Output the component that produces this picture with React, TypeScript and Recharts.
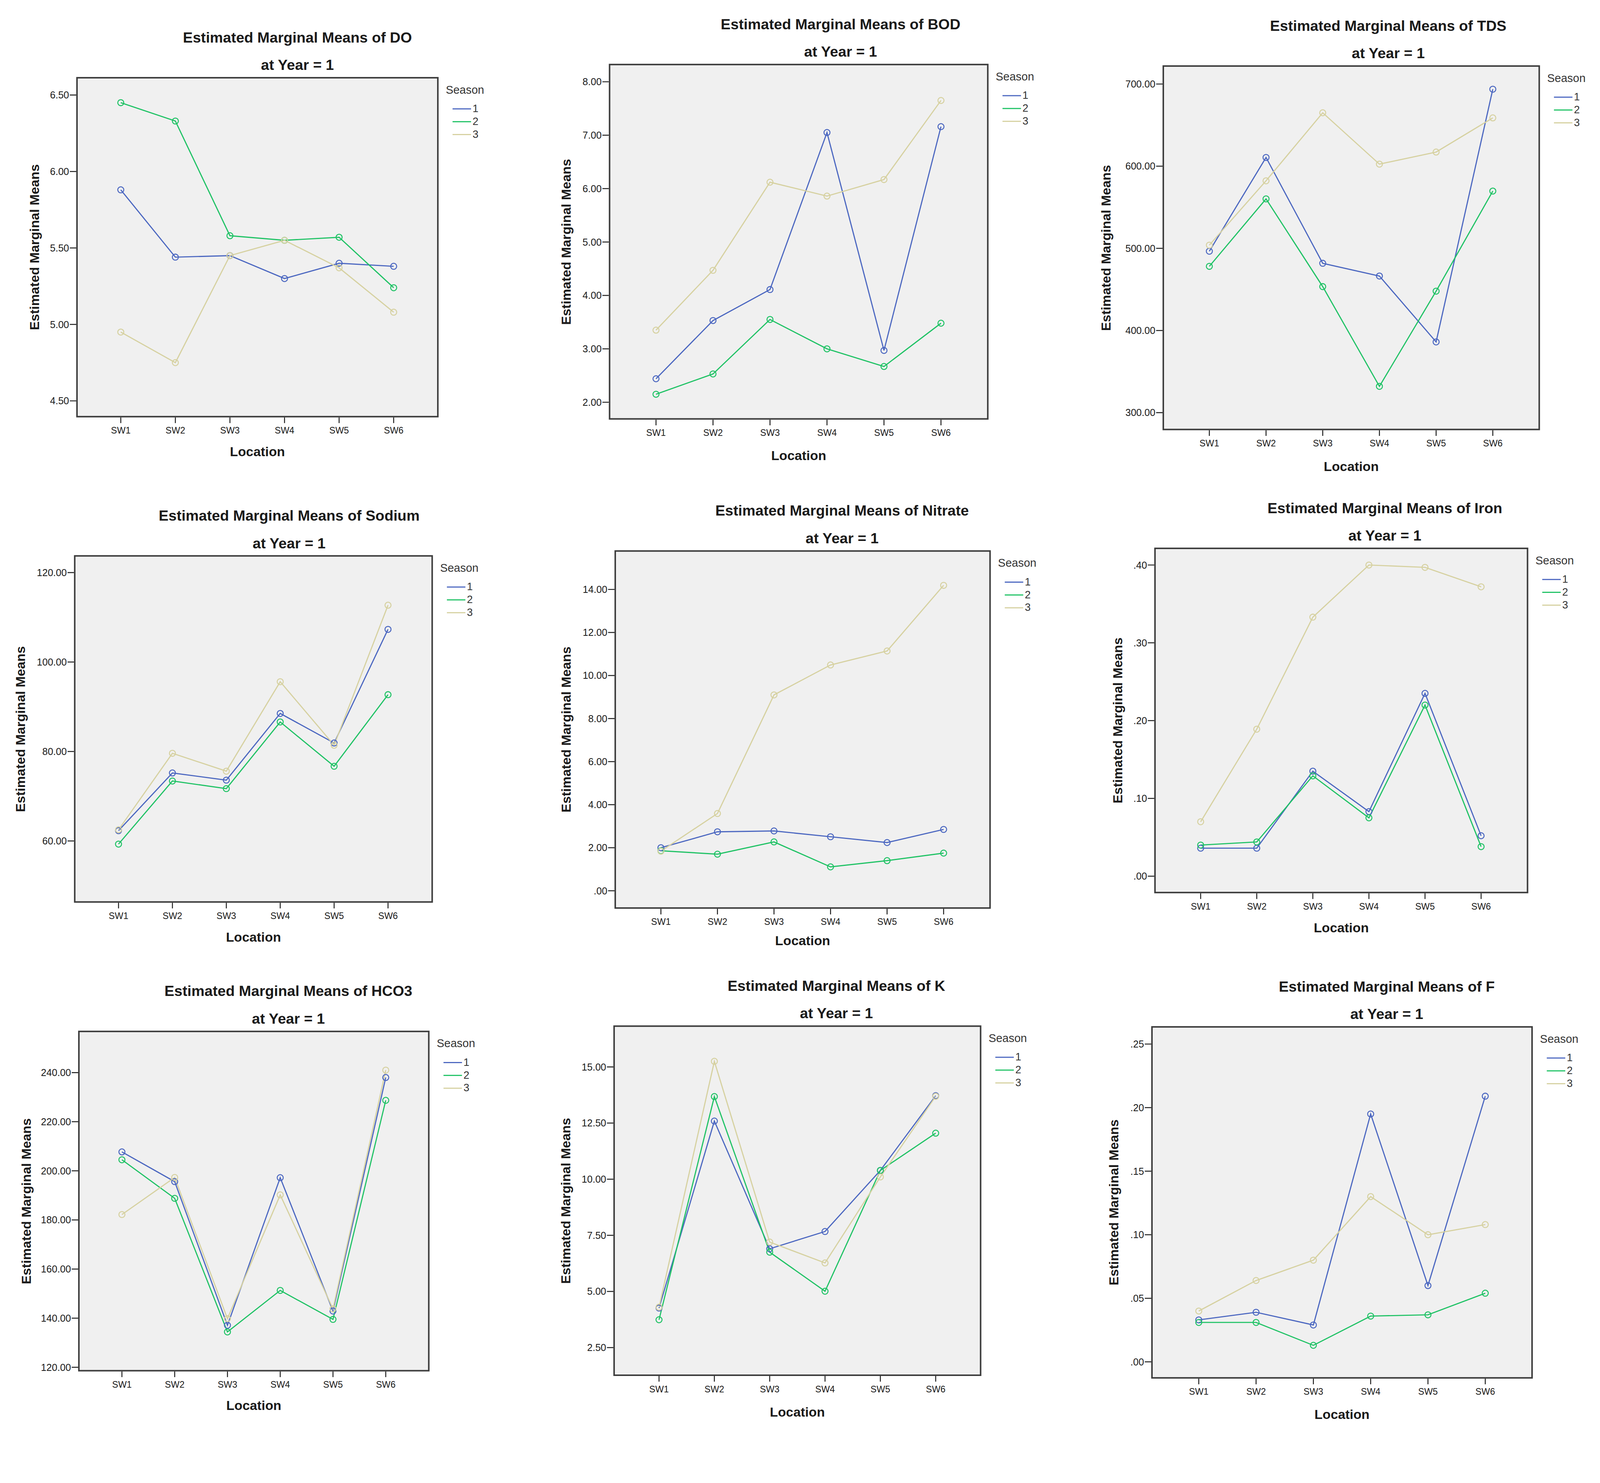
import React from "react";
import { LineChart, Line, XAxis, YAxis } from "recharts";

// categories and legend
const locations = ["SW1", "SW2", "SW3", "SW4", "SW5", "SW6"];
const seasons = ["1", "2", "3"];
const seasonColors = ["#4a66c0", "#1ec264", "#d6d1a0"];

// values, one array per season
const doS1 = [5.88, 5.44, 5.45, 5.3, 5.4, 5.38];
const doS2 = [6.45, 6.33, 5.58, 5.55, 5.57, 5.24];
const doS3 = [4.95, 4.75, 5.45, 5.55, 5.37, 5.08];
const doTicks = [4.5, 5, 5.5, 6, 6.5];

const bodS1 = [2.44, 3.53, 4.11, 7.05, 2.97, 7.16];
const bodS2 = [2.15, 2.53, 3.55, 3.0, 2.67, 3.48];
const bodS3 = [3.35, 4.47, 6.12, 5.86, 6.17, 7.65];
const bodTicks = [2, 3, 4, 5, 6, 7, 8];

const tdsS1 = [496.5, 610.6, 481.8, 466.3, 386.1, 693.7];
const tdsS2 = [478.1, 560.2, 453.4, 332.0, 447.9, 569.7];
const tdsS3 = [503.9, 582.2, 665.0, 602.5, 617.2, 658.8];
const tdsTicks = [300, 400, 500, 600, 700];

const naS1 = [62.3, 75.2, 73.6, 88.5, 81.9, 107.3];
const naS2 = [59.3, 73.4, 71.7, 86.6, 76.7, 92.7];
const naS3 = [62.5, 79.6, 75.6, 95.6, 81.4, 112.7];
const naTicks = [60, 80, 100, 120];

const no3S1 = [2.0, 2.74, 2.78, 2.51, 2.24, 2.85];
const no3S2 = [1.86, 1.7, 2.27, 1.11, 1.4, 1.75];
const no3S3 = [1.84, 3.59, 9.1, 10.49, 11.14, 14.19];
const no3Ticks = [0, 2, 4, 6, 8, 10, 12, 14];

const feS1 = [0.036, 0.036, 0.135, 0.083, 0.235, 0.052];
const feS2 = [0.04, 0.044, 0.129, 0.075, 0.22, 0.038];
const feS3 = [0.07, 0.189, 0.333, 0.4, 0.397, 0.372];
const feTicks = [0, 0.1, 0.2, 0.3, 0.4];

const hco3S1 = [207.7, 195.6, 137.1, 197.2, 142.9, 238.0];
const hco3S2 = [204.5, 188.8, 134.4, 151.3, 139.5, 228.7];
const hco3S3 = [182.2, 197.3, 139.8, 190.2, 143.8, 241.0];
const hco3Ticks = [120, 140, 160, 180, 200, 220, 240];

const kS1 = [4.26, 12.59, 6.9, 7.67, 10.39, 13.72];
const kS2 = [3.74, 13.68, 6.75, 5.01, 10.39, 12.05];
const kS3 = [4.3, 15.25, 7.2, 6.27, 10.1, 13.69];
const kTicks = [2.5, 5, 7.5, 10, 12.5, 15];

const fS1 = [0.033, 0.039, 0.029, 0.195, 0.06, 0.209];
const fS2 = [0.031, 0.031, 0.013, 0.036, 0.037, 0.054];
const fS3 = [0.04, 0.064, 0.08, 0.13, 0.1, 0.108];
const fTicks = [0, 0.05, 0.1, 0.15, 0.2, 0.25];

// layout: box = [left, top, right, bottom] of plot frame on the page
const panels = [
  { name: "DO", series: [doS1, doS2, doS3], ticks: doTicks, domain: [4.392, 6.618],
    box: [202, 204, 1162, 1106], pad: [118, 119], titleX: 788, yLabelX: 91, locDy: 90 },
  { name: "BOD", series: [bodS1, bodS2, bodS3], ticks: bodTicks, domain: [1.674, 8.337],
    box: [1613, 169, 2619, 1112], pad: [125, 126], titleX: 2227, yLabelX: 1499, locDy: 95 },
  { name: "TDS", series: [tdsS1, tdsS2, tdsS3], ticks: tdsTicks, domain: [278.6, 722.8],
    box: [3080, 173, 4080, 1140], pad: [124, 125], titleX: 3678, yLabelX: 2930, locDy: 96 },
  { name: "Sodium", series: [naS1, naS2, naS3], ticks: naTicks, domain: [46.19, 123.89],
    box: [196, 1471, 1147, 2392], pad: [118, 119], titleX: 766, yLabelX: 54, locDy: 91 },
  { name: "Nitrate", series: [no3S1, no3S2, no3S3], ticks: no3Ticks, domain: [-0.836, 15.82],
    box: [1628, 1458, 2625, 2408], pad: [123, 125], titleX: 2231, yLabelX: 1499, locDy: 84 },
  { name: "Iron", series: [feS1, feS2, feS3], ticks: feTicks, domain: [-0.022, 0.4224],
    box: [3058, 1451, 4049, 2367], pad: [123, 125], titleX: 3669, yLabelX: 2961, locDy: 91 },
  { name: "HCO3", series: [hco3S1, hco3S2, hco3S3], ticks: hco3Ticks, domain: [118.3, 257.07],
    box: [207, 2731, 1138, 3634], pad: [116, 116], titleX: 764, yLabelX: 69, locDy: 90 },
  { name: "K", series: [kS1, kS2, kS3], ticks: kTicks, domain: [1.235, 16.85],
    box: [1625, 2717, 2600, 3646], pad: [121, 121], titleX: 2216, yLabelX: 1498, locDy: 95 },
  { name: "F", series: [fS1, fS2, fS3], ticks: fTicks, domain: [-0.0132, 0.2641],
    box: [3050, 2719, 4061, 3653], pad: [126, 126], titleX: 3674, yLabelX: 2950, locDy: 94 },
];

const PAGE_W = 4239;
const PAGE_H = 3797;
const AXW = 200;
const AXH = 70;
const FONT = "'Liberation Sans', Arial, sans-serif";
const TXT = "#1a1a1a";

// SPSS style: drop the leading zero
const fmt = (v: number) => v.toFixed(2).replace(/^0\./, ".").replace(/^-0\./, "-.");

const abs = (left: number, top: number, extra: React.CSSProperties = {}): React.CSSProperties => ({
  position: "absolute", left, top, whiteSpace: "nowrap", lineHeight: 1, ...extra,
});

function Panel({ p }: { p: any }) {
  const [L, T, R, B] = p.box;
  const w = R - L;
  const h = B - T;
  const rows = locations.map((loc, i) => ({
    loc, s1: p.series[0][i], s2: p.series[1][i], s3: p.series[2][i],
  }));

  return (
    <>
      <div style={abs(L, T, { width: w, height: h, background: "#f0f0f0", border: "4px solid #3c3c3c", boxSizing: "border-box" })} />
      <div style={abs(L - AXW, T)}>
        <LineChart width={w + AXW} height={h + AXH} data={rows} margin={{ top: 0, right: 0, bottom: 0, left: 0 }}>
          <XAxis
            dataKey="loc"
            type="category"
            interval={0}
            padding={{ left: p.pad[0], right: p.pad[1] }}
            height={AXH}
            axisLine={false}
            tickSize={15}
            tickMargin={11}
            tickLine={{ stroke: TXT, strokeWidth: 2.5 }}
            tick={{ fontSize: 24, fill: TXT, fontFamily: FONT }}
          />
          <YAxis
            type="number"
            width={AXW}
            domain={p.domain}
            ticks={p.ticks}
            allowDataOverflow
            axisLine={false}
            tickSize={17}
            tickMargin={2}
            tickFormatter={fmt}
            tickLine={{ stroke: TXT, strokeWidth: 2.5 }}
            tick={{ fontSize: 26, fill: TXT, fontFamily: FONT }}
          />
          {seasons.map((s, i) => (
            <Line
              key={s}
              type="linear"
              dataKey={`s${i + 1}`}
              stroke={seasonColors[i]}
              strokeWidth={3}
              dot={{ r: 8, stroke: seasonColors[i], strokeWidth: 2.6, fill: "none" }}
              activeDot={false}
              isAnimationActive={false}
            />
          ))}
        </LineChart>
      </div>

      <div style={abs(p.titleX, T - 105, { transform: "translate(-50%,-50%)", fontWeight: "bold", fontSize: 39, color: TXT })}>
        Estimated Marginal Means of {p.name}
      </div>
      <div style={abs(p.titleX, T - 32, { transform: "translate(-50%,-50%)", fontWeight: "bold", fontSize: 39, color: TXT })}>
        at Year = 1
      </div>
      <div style={abs((L + R) / 2, B + p.locDy, { transform: "translate(-50%,-50%)", fontWeight: "bold", fontSize: 35, color: TXT })}>
        Location
      </div>
      <div style={abs(p.yLabelX, (T + B) / 2, { transform: "translate(-50%,-50%) rotate(-90deg)", fontWeight: "bold", fontSize: 35, color: TXT })}>
        Estimated Marginal Means
      </div>

      <div style={abs(R + 19, T + 34, { transform: "translateY(-50%)", fontSize: 30, color: "#333" })}>Season</div>
      {seasons.map((s, i) => (
        <React.Fragment key={s}>
          <div style={abs(R + 37, T + 84 + i * 34 - 1.5, { width: 49, height: 3, background: seasonColors[i] })} />
          <div style={abs(R + 90, T + 84 + i * 34, { transform: "translateY(-50%)", fontSize: 28, color: "#333" })}>{s}</div>
        </React.Fragment>
      ))}
    </>
  );
}

export default function App() {
  // the viewport may be smaller than the picture; fit the whole page into it
  const vw = typeof window !== "undefined" ? window.innerWidth : PAGE_W;
  const vh = typeof window !== "undefined" ? window.innerHeight : PAGE_H;
  const s = Math.min(1, vw / PAGE_W, vh / PAGE_H);

  return (
    <div style={{ position: "absolute", left: 0, top: 0, width: PAGE_W * s, height: PAGE_H * s, overflow: "hidden", background: "#fff" }}>
      <div style={{ position: "absolute", left: 0, top: 0, width: PAGE_W, height: PAGE_H, transform: `scale(${s})`, transformOrigin: "0 0", fontFamily: FONT }}>
        {panels.map((p) => (
          <Panel key={p.name} p={p} />
        ))}
      </div>
    </div>
  );
}
